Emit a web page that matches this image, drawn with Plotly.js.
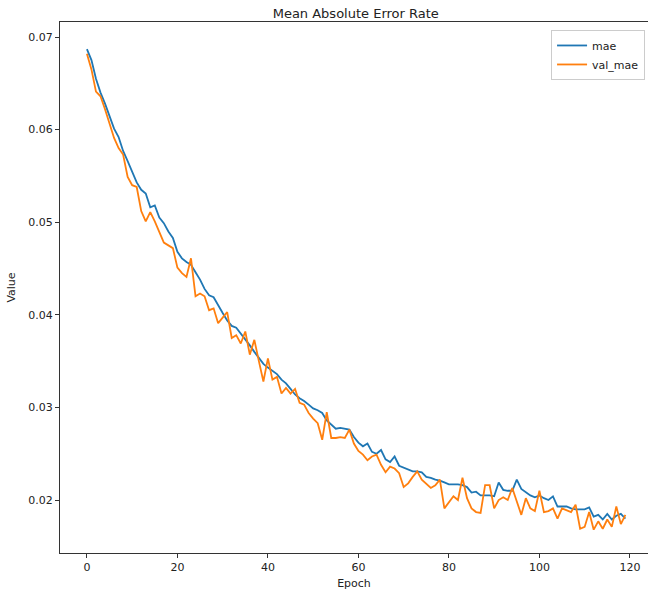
<!DOCTYPE html>
<html>
<head>
<meta charset="utf-8">
<script src="https://cdn.plot.ly/plotly-3.0.1.min.js"></script>
<style>
html,body{margin:0;padding:0;overflow:hidden;background:#fff;}
#chart{width:648px;height:590px;}
</style>
</head>
<body>
<div id="chart"></div>
<script>
const epochs = Array.from({length: 120}, (_, i) => i);
const seriesNames = ["mae", "val_mae"];
const mae = [
0.0687,0.0675,0.0655,0.0640,0.0628,0.0614,0.0601,0.0592,0.0577,0.0566,
0.0554,0.0543,0.0535,0.0531,0.0516,0.0518,0.0505,0.0499,0.0490,0.0483,
0.0468,0.0461,0.0457,0.0454,0.0446,0.0438,0.0428,0.0421,0.0419,0.0410,
0.0402,0.0394,0.0388,0.0386,0.0380,0.0374,0.0367,0.0360,0.0353,0.0347,
0.0343,0.0339,0.0336,0.0330,0.0326,0.0320,0.0314,0.0310,0.0307,0.0303,
0.0299,0.0297,0.0294,0.0286,0.0281,0.0277,0.0278,0.0277,0.0276,0.0268,
0.0262,0.0258,0.0261,0.0252,0.0250,0.0254,0.0244,0.0241,0.0247,0.0237,
0.0235,0.0233,0.0231,0.0231,0.0230,0.0225,0.0224,0.0222,0.0221,0.0219,
0.0217,0.0217,0.0217,0.0216,0.0214,0.0208,0.0209,0.0205,0.0205,0.0205,
0.0204,0.0219,0.0211,0.0210,0.0210,0.0222,0.0212,0.0208,0.0205,0.0203,
0.0205,0.0202,0.0200,0.0204,0.0193,0.0193,0.0193,0.0191,0.0190,0.0190,
0.0190,0.0192,0.0182,0.0184,0.0179,0.0185,0.0179,0.0183,0.0185,0.0180
];
const valMae = [
0.0682,0.0665,0.0641,0.0636,0.0622,0.0607,0.0591,0.0580,0.0573,0.0549,
0.0540,0.0538,0.0512,0.0501,0.0511,0.0501,0.0490,0.0478,0.0475,0.0472,
0.0451,0.0445,0.0441,0.0461,0.0420,0.0423,0.0420,0.0405,0.0407,0.0391,
0.0397,0.0403,0.0375,0.0378,0.0369,0.0382,0.0357,0.0373,0.0350,0.0328,
0.0353,0.0330,0.0333,0.0315,0.0321,0.0315,0.0320,0.0305,0.0303,0.0294,
0.0288,0.0283,0.0265,0.0295,0.0267,0.0267,0.0268,0.0267,0.0276,0.0261,
0.0253,0.0249,0.0243,0.0247,0.0249,0.0238,0.0230,0.0236,0.0234,0.0229,
0.0214,0.0218,0.0225,0.0231,0.0222,0.0218,0.0213,0.0216,0.0222,0.0191,
0.0198,0.0204,0.0200,0.0224,0.0202,0.0191,0.0187,0.0186,0.0216,0.0216,
0.0191,0.0200,0.0203,0.0200,0.0213,0.0199,0.0184,0.0202,0.0191,0.0188,
0.0210,0.0187,0.0188,0.0191,0.0180,0.0191,0.0189,0.0187,0.0195,0.0169,
0.0171,0.0187,0.0168,0.0177,0.0169,0.0179,0.0171,0.0193,0.0174,0.0184
];
const xTicks = [0, 20, 40, 60, 80, 100, 120];
const yTicks = [0.02, 0.03, 0.04, 0.05, 0.06, 0.07];
const yTickText = ["0.02", "0.03", "0.04", "0.05", "0.06", "0.07"];

const font = "DejaVu Sans, sans-serif";
const traces = [
  {x: epochs, y: mae, name: seriesNames[0], type: "scatter", mode: "lines",
   line: {color: "#1f77b4", width: 1.8}},
  {x: epochs, y: valMae, name: seriesNames[1], type: "scatter", mode: "lines",
   line: {color: "#ff7f0e", width: 1.8}}
];
const layout = {
  width: 648, height: 590,
  margin: {l: 60, r: 0, t: 22, b: 37, autoexpand: false},
  paper_bgcolor: "#fff", plot_bgcolor: "#fff",
  font: {family: font, color: "#222", size: 11},
  title: {text: "Mean Absolute Error Rate", font: {family: font, size: 13, color: "#222"},
          xref: "container", x: 0.549, xanchor: "center", yref: "container", y: 0.977, yanchor: "middle"},
  showlegend: true,
  legend: {x: 0.995, xanchor: "right", y: 0.985, yanchor: "top",
           bgcolor: "rgba(255,255,255,0.8)",
           bordercolor: "#ccc", borderwidth: 1, font: {family: font, size: 11, color: "#222"},
           tracegroupgap: 0, itemwidth: 30},
  xaxis: {range: [-5.95, 124.0], tickvals: xTicks, ticktext: xTicks.map(String),
          showgrid: false, zeroline: false, showline: true, linecolor: "#333", linewidth: 1,
          mirror: true, ticks: "outside", ticklen: 4, tickcolor: "#333",
          tickfont: {family: font, size: 11, color: "#222"},
          title: {text: "Epoch", font: {family: font, size: 11, color: "#222"}, standoff: 6}},
  yaxis: {range: [0.01428, 0.07162], tickvals: yTicks, ticktext: yTickText,
          showgrid: false, zeroline: false, showline: true, linecolor: "#333", linewidth: 1,
          mirror: false, ticks: "outside", ticklen: 4, tickcolor: "#333",
          tickfont: {family: font, size: 11, color: "#222"},
          title: {text: "Value", font: {family: font, size: 11, color: "#222"}, standoff: 10}}
};
Plotly.newPlot("chart", traces, layout, {displayModeBar: false, staticPlot: true});
</script>
</body>
</html>
